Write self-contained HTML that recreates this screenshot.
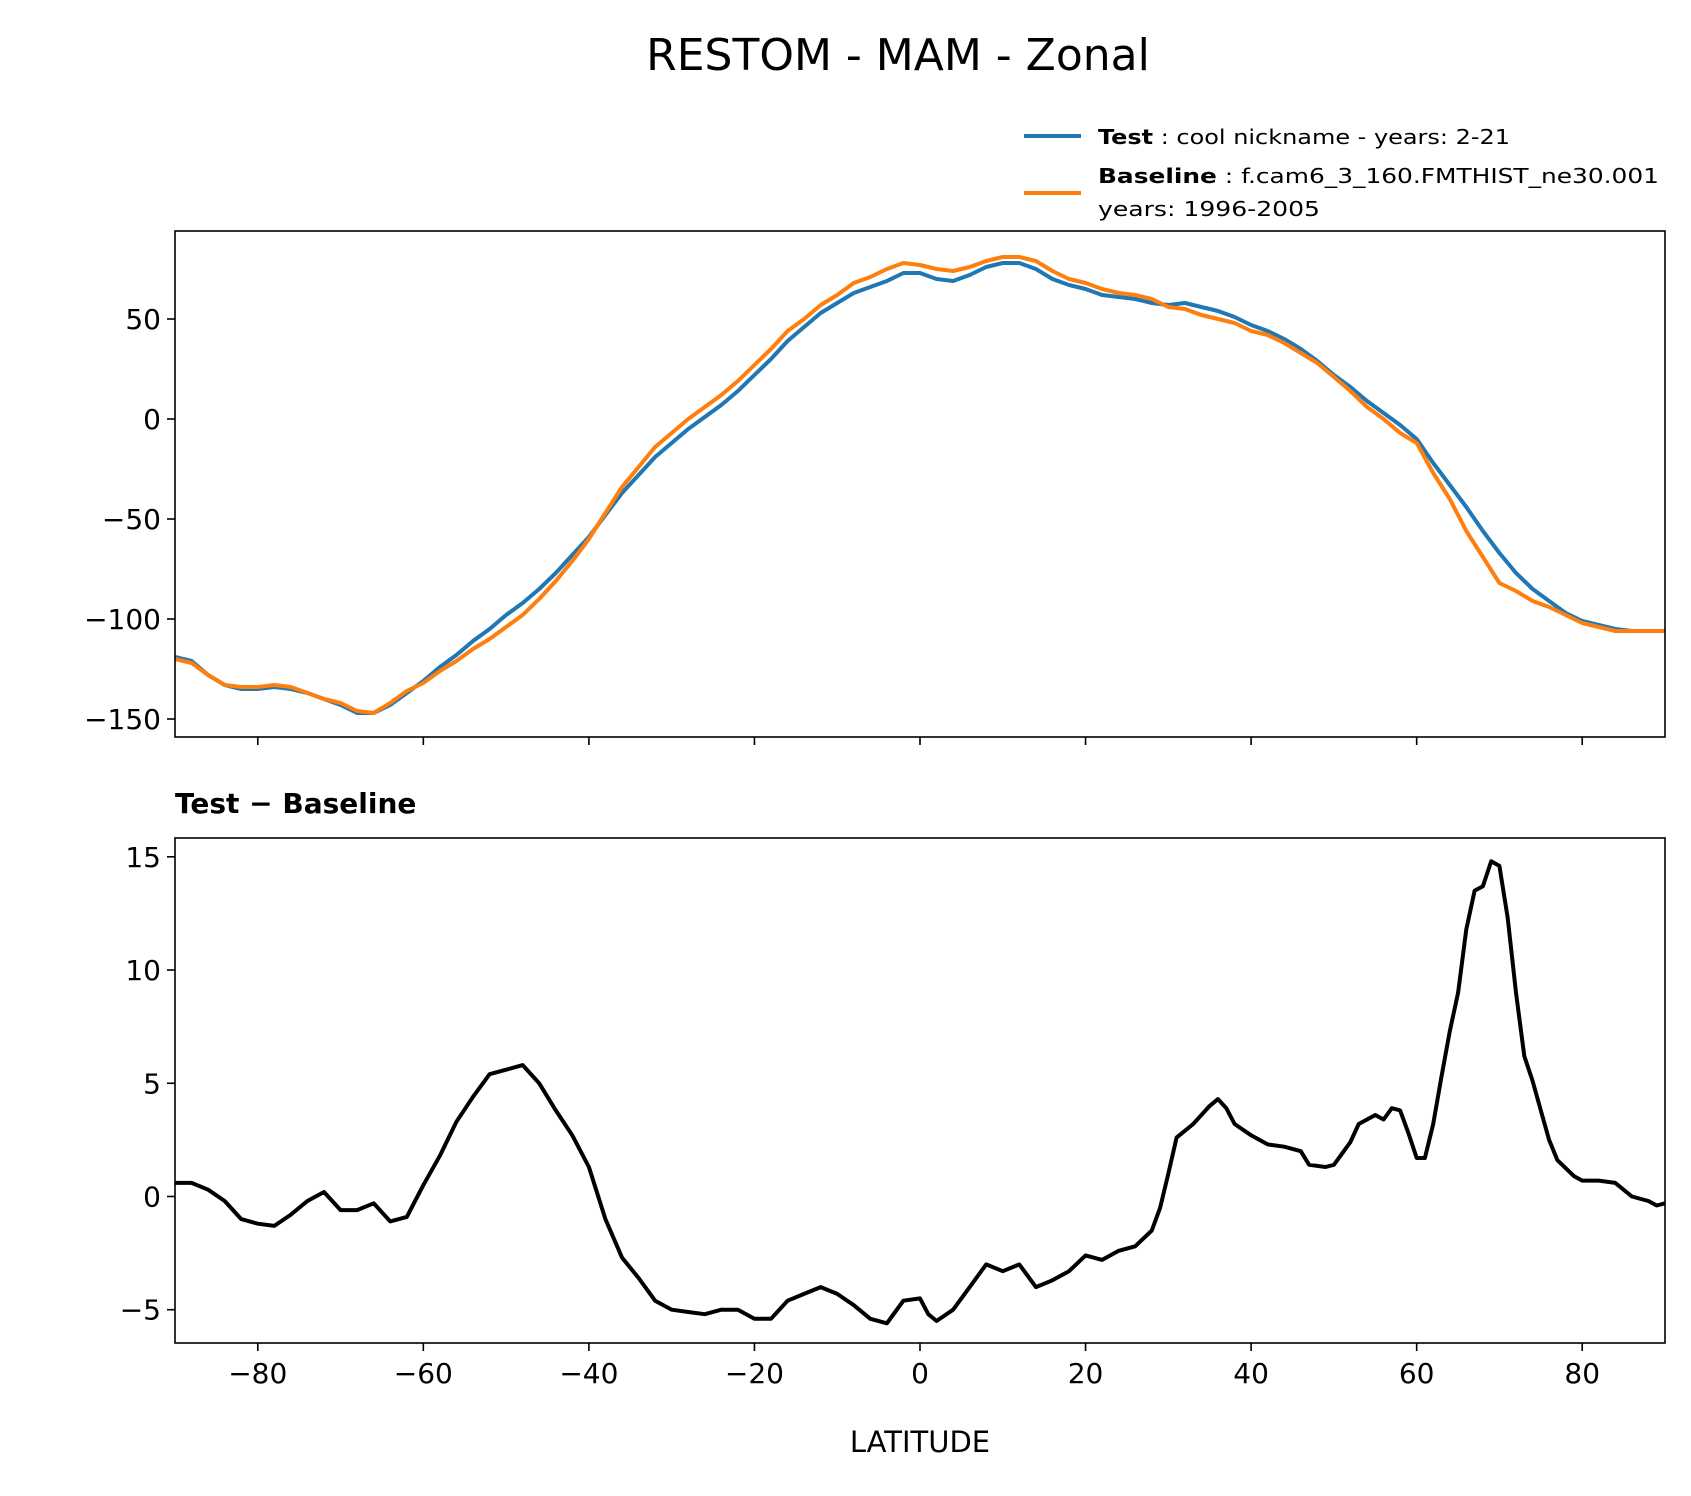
<!DOCTYPE html>
<html><head><meta charset="utf-8"><style>
body{margin:0;background:#fff}
svg{display:block;font-family:"DejaVu Sans","Liberation Sans",sans-serif}
</style></head><body>
<svg id="fig" width="1691" height="1496" viewBox="0 0 1691 1496">
<text x="898" y="70" font-size="44" text-anchor="middle">RESTOM - MAM - Zonal</text>
<g>
<line x1="1024" y1="136" x2="1081" y2="136" stroke="#1f77b4" stroke-width="4"/>
<text x="1098" y="144" font-size="20" textLength="412" lengthAdjust="spacingAndGlyphs"><tspan font-weight="bold">Test</tspan> : cool nickname - years: 2-21</text>
<line x1="1024" y1="193" x2="1081" y2="193" stroke="#ff7f0e" stroke-width="4"/>
<text x="1098" y="183" font-size="20" textLength="561" lengthAdjust="spacingAndGlyphs"><tspan font-weight="bold">Baseline</tspan> : f.cam6_3_160.FMTHIST_ne30.001</text>
<text x="1098" y="216" font-size="20" textLength="222" lengthAdjust="spacingAndGlyphs">years: 1996-2005</text>
</g>
<text x="175" y="813" font-size="28" font-weight="bold">Test − Baseline</text>
<text x="920" y="1452" font-size="29" text-anchor="middle">LATITUDE</text>
<g id="top"></g>
<g id="bot"></g>
</svg>
<script>
const lat2 = [];
for (let v = -90; v <= 90; v += 2) lat2.push(v);
const testVals = [-119,-121,-128,-133,-135,-135,-134,-135,-137,-140,-143,-147,-147,-143,-137,-131,-124,-118,-111,-105,-98,-92,-85,-77,-68,-59,-48,-37,-28,-19,-12,-5,1,7,14,22,30,39,46,53,58,63,66,69,73,73,70,69,72,76,78,78,75,70,67,65,62,61,60,58,57,58,56,54,51,47,44,40,35,29,22,16,9,3,-3,-10,-22,-33,-44,-56,-67,-77,-85,-91,-97,-101,-103,-105,-106,-106,-106];
const baseVals = [-120,-122,-128,-133,-134,-134,-133,-134,-137,-140,-142,-146,-147,-142,-136,-132,-126,-121,-115,-110,-104,-98,-90,-81,-71,-60,-47,-34,-24,-14,-7,0,6,12,19,27,35,44,50,57,62,68,71,75,78,77,75,74,76,79,81,81,79,74,70,68,65,63,62,60,56,55,52,50,48,44,42,38,33,28,21,14,6,0,-7,-12,-27,-40,-56,-69,-82,-86,-91,-94,-98,-102,-104,-106,-106,-106,-106];
const diffLat = [-90,-88,-86,-84,-82,-80,-78,-76,-74,-72,-70,-68,-66,-64,-62,-60,-58,-56,-54,-52,-50,-48,-46,-44,-42,-40,-38,-36,-34,-32,-30,-28,-26,-24,-22,-20,-18,-16,-14,-12,-10,-8,-6,-4,-2,0,1,2,4,6,8,10,12,14,16,18,20,22,24,26,28,29,30,31,33,35,36,37,38,40,42,44,46,47,49,50,52,53,55,56,57,58,59,60,61,62,63,64,65,66,67,68,69,70,71,72,73,74,75,76,77,79,80,82,84,86,88,89,90];
const diffVals = [0.6,0.6,0.3,-0.2,-1.0,-1.2,-1.3,-0.8,-0.2,0.2,-0.6,-0.6,-0.3,-1.1,-0.9,0.5,1.8,3.3,4.4,5.4,5.6,5.8,5.0,3.8,2.7,1.3,-1.0,-2.7,-3.6,-4.6,-5.0,-5.1,-5.2,-5.0,-5.0,-5.4,-5.4,-4.6,-4.3,-4.0,-4.3,-4.8,-5.4,-5.6,-4.6,-4.5,-5.2,-5.5,-5.0,-4.0,-3.0,-3.3,-3.0,-4.0,-3.7,-3.3,-2.6,-2.8,-2.4,-2.2,-1.5,-0.5,1.0,2.6,3.2,4.0,4.3,3.9,3.2,2.7,2.3,2.2,2.0,1.4,1.3,1.4,2.4,3.2,3.6,3.4,3.9,3.8,2.8,1.7,1.7,3.2,5.3,7.3,9.0,11.8,13.5,13.7,14.8,14.6,12.3,9.0,6.2,5.1,3.8,2.5,1.6,0.9,0.7,0.7,0.6,0.0,-0.2,-0.4,-0.3];
const xTicks = [-80,-60,-40,-20,0,20,40,60,80];
const topTicks = [50,0,-50,-100,-150];
const botTicks = [15,10,5,0,-5];

const NS = "http://www.w3.org/2000/svg";
const X0 = 175, X1 = 1665;
const xs = v => X0 + (v + 90) / 180 * (X1 - X0);
function mk(tag, attrs, parent){const e=document.createElementNS(NS,tag);for(const k in attrs)e.setAttribute(k,attrs[k]);parent.appendChild(e);return e;}
function panel(g, top, bot, vmax, vmin, yt, showX){
  const ys = v => top + (vmax - v) / (vmax - vmin) * (bot - top);
  for (const t of yt){
    const y = ys(t);
    const tk = mk("line",{x1:X0-8,x2:X0,y1:y,y2:y,stroke:"#000","stroke-width":1.6},g);
    
    
    const tx = mk("text",{x:X0-14,y:y+10,"font-size":28,"text-anchor":"end"},g);
    tx.textContent = t < 0 ? "−" + Math.abs(t) : String(t);
    
    
  }
  for (const t of xTicks){
    const x = xs(t);
    const tk = mk("line",{x1:x,x2:x,y1:bot,y2:bot+8,stroke:"#000","stroke-width":1.6},g);
    
    
    if (showX){
      const tx = mk("text",{x:x,y:bot+40,"font-size":28,"text-anchor":"middle"},g);
      tx.textContent = t < 0 ? "−" + Math.abs(t) : String(t);
      
      
    }
  }
  return ys;
}
function line(g, lats, vals, ys, color, name){
  const d = lats.map((l,i)=>(i?"L":"M")+xs(l).toFixed(1)+","+ys(vals[i]).toFixed(1)).join("");
  const p = mk("path",{d:d,fill:"none",stroke:color,"stroke-width":4,"stroke-linejoin":"round"},g);
  
  
}
const gt = document.getElementById("top");
const ysT = panel(gt, 231, 737, 94, -159, topTicks, false);
line(gt, lat2, testVals, ysT, "#1f77b4", "test-line");
line(gt, lat2, baseVals, ysT, "#ff7f0e", "baseline-line");
const ft = mk("rect",{x:X0,y:231,width:X1-X0,height:506,fill:"none",stroke:"#000","stroke-width":1.6},gt);


const gb = document.getElementById("bot");
const ysB = panel(gb, 838, 1343, 15.83, -6.47, botTicks, true);
line(gb, diffLat, diffVals, ysB, "#000", "diff-line");
const fb = mk("rect",{x:X0,y:838,width:X1-X0,height:505,fill:"none",stroke:"#000","stroke-width":1.6},gb);


</script>
</body></html>
